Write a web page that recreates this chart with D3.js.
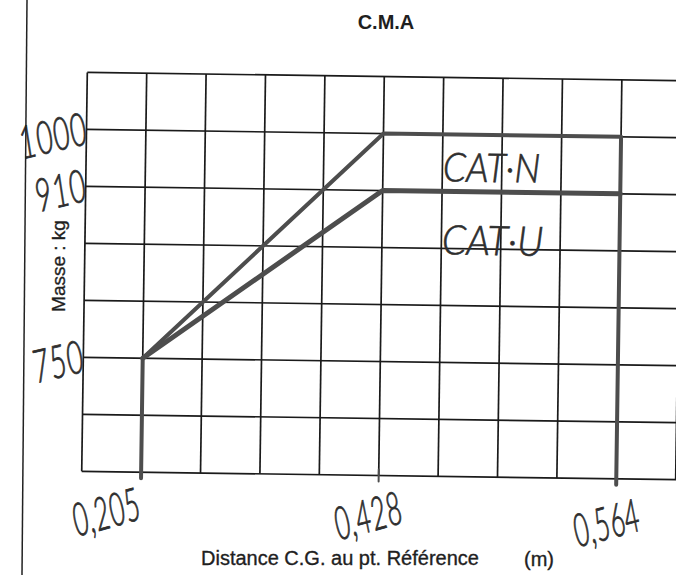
<!DOCTYPE html>
<meta charset="utf-8">
<style>
    body { margin: 0; background: #fff; }
    .grid line { stroke: #1a1a1a; stroke-width: 1.7; }
    .curve { fill: none; stroke: #4d4d4d; stroke-linejoin: round; stroke-linecap: round; }
    .print { font-family: "Liberation Sans", Arial, sans-serif; fill: #1f1f1f; stroke: #1f1f1f; stroke-width: 0.35; }
    .hand { font-family: Lato, "DejaVu Sans", sans-serif; font-style: italic; font-weight: 300; fill: #2e2e2e; stroke: #2e2e2e; stroke-width: 0.6; }
</style>
<body>
<script src="https://cdn.jsdelivr.net/npm/d3@7"></script>
<script>

    // values
    var xTicks = [0.205, 0.428, 0.564];   // distance C.G. (m)
    var yTicks = [750, 910, 1000];        // masse (kg)
    var catN = [[0.205, 750], [0.428, 1000], [0.564, 1000]];
    var catU = [[0.205, 750], [0.428, 910], [0.564, 910]];

    var width = 676, height = 575;
    var nCols = 10, nRows = 7;

    var svg = d3.select("body").append("svg")
            .attr("width", width)
            .attr("height", height);

    // the scan is slightly tilted
    var g = svg.append("g").attr("transform", "rotate(0.8,380,275)");

    // grid cells
    var col = d3.scaleLinear().domain([0, nCols]).range([84.5, 678.5]);
    var row = d3.scaleLinear().domain([0, nRows]).range([76.5, 475.5]);

    // hand-drawn axes: ticks sit on grid lines, not evenly spaced in value
    var x = d3.scaleLinear().domain(xTicks).range([1, 5, 9].map(col));
    var y = d3.scaleLinear().domain(yTicks).range([5, 2, 1].map(row));

    var grid = g.append("g").attr("class", "grid");
    grid.selectAll("line.v").data(d3.range(nCols + 1)).enter().append("line")
            .attr("class", "v")
            .attr("x1", col).attr("x2", col)
            .attr("y1", row(0)).attr("y2", row(nRows));
    grid.selectAll("line.h").data(d3.range(nRows + 1)).enter().append("line")
            .attr("class", "h")
            .attr("x1", col(0)).attr("x2", col(nCols) + 10)
            .attr("y1", row).attr("y2", row);

    var line = d3.line().x(function(d) { return x(d[0]); }).y(function(d) { return y(d[1]); });
    var bottom = row(nRows) + 6;

    // CAT.N envelope with the two verticals down to the axis
    g.append("path").attr("class", "curve")
            .attr("stroke-width", 4)
            .attr("d", "M" + x(xTicks[0]) + "," + bottom + "L" + line(catN).slice(1)
                    + "L" + x(xTicks[2]) + "," + bottom);
    g.append("path").attr("class", "curve")
            .attr("stroke-width", 5)
            .attr("d", line(catU));
    // small mark at 0,428 on the bottom edge
    g.append("line").attr("class", "curve").attr("stroke-width", 2)
            .attr("x1", x(xTicks[1])).attr("x2", x(xTicks[1]))
            .attr("y1", row(nRows) - 6).attr("y2", bottom);

    var fmt = d3.formatLocale({decimal: ",", thousands: "", grouping: [3]}).format(".3f");

    g.selectAll("text.yt").data(yTicks).enter().append("text")
            .attr("class", "hand yt")
            .attr("text-anchor", "end")
            .attr("font-size", 35)
            .attr("transform", function(d) { return "translate(88," + (y(d) + 14) + ") rotate(-14) scale(0.85,1.3)"; })
            .text(function(d) { return d; });

    g.selectAll("text.xt").data(xTicks).enter().append("text")
            .attr("class", "hand xt")
            .attr("text-anchor", "middle")
            .attr("font-size", 34)
            .attr("transform", function(d, i) {
                var dx = [-30, -6, -5][i];
                var dy = [56, 56, 60][i];
                return "translate(" + (x(d) + dx) + "," + (row(nRows) + dy) + ") rotate(-16) scale(0.8,1.35)";
            })
            .text(fmt);

    g.append("text").attr("class", "hand")
            .attr("font-size", 38)
            .attr("transform", "translate(" + (x(0.428) + 60) + "," + (y(1000) + 47) + ") scale(0.97,1.05)")
            .text("CAT·N");
    g.append("text").attr("class", "hand")
            .attr("font-size", 40)
            .attr("transform", "translate(" + (x(0.428) + 60) + "," + (y(910) + 63) + ") scale(0.97,1.02)")
            .text("CAT·U");

    // page frame line on the left
    svg.append("line")
            .attr("x1", 27).attr("y1", 0).attr("x2", 22).attr("y2", height)
            .attr("stroke", "#222").attr("stroke-width", 1.5);

    svg.append("text")
            .attr("x", 386).attr("y", 29)
            .attr("text-anchor", "middle")
            .attr("font-family", "Liberation Sans, Arial, sans-serif")
            .attr("font-weight", "bold")
            .attr("font-size", 20)
            .attr("fill", "#1f1f1f")
            .text("C.M.A");

    svg.append("text").attr("class", "print")
            .attr("transform", "translate(65,266) rotate(-90)")
            .attr("text-anchor", "middle")
            .attr("font-size", 19)
            .text("Masse : kg");

    svg.append("text").attr("class", "print")
            .attr("x", 201).attr("y", 565)
            .attr("font-size", 20)
            .text("Distance C.G. au pt. Référence");
    svg.append("text").attr("class", "print")
            .attr("x", 524).attr("y", 566)
            .attr("font-size", 20)
            .text("(m)");

</script>
